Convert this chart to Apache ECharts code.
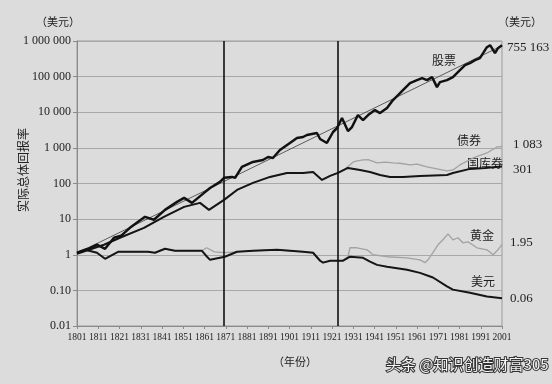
<!DOCTYPE html>
<html>
<head>
<meta charset="utf-8">
<script src="https://cdn.jsdelivr.net/npm/echarts@6/dist/echarts.min.js"></script>
<style>
  html, body { margin: 0; padding: 0; background: #dcdcdc; }
  #chart { width: 552px; height: 384px; }
</style>
</head>
<body>
<div id="chart"></div>
<script>
// ---- Data ----
const baseYear = 1801;
const xTickLabels = ['1801','1811','1821','1831','1841','1851','1861','1871','1881','1891','1901',
  '1911','1921','1931','1941','1951','1961','1971','1981','1991','2001'];
const yTickLabels = ['0.01','0.10','1','10','100','1 000','10 000','100 000','1 000 000'];

const stockYears = [1801,1806.2,1810.4,1814.2,1818.4,1821.7,1825.9,1833,1837.2,1842.4,1848.1,1851.4,1855.1,1860.8,1863.6,1868.3,1870.2,1873.9,1875.4,1878.6,1883.8,1888.5,1890.9,1893.2,1896.5,1901.2,1904.5,1907.4,1909.2,1913.9,1915.4,1918.6,1921.5,1923.4,1925.7,1928.5,1930.4,1933.2,1935.6,1938,1941.2,1943.6,1946.9,1949.7,1952.1,1954.4,1957.7,1961,1963.4,1965.7,1968.1,1970.4,1971.8,1975.1,1977.9,1981.2,1983.6,1985.9,1988.3,1990.6,1992.1,1993.9,1995.4,1997.7,1999.1,2001];
const stockValues = [1.14,1.47,1.91,1.47,3.0,3.4,5.7,11.6,9.6,18.2,30.5,39.5,28.6,54.6,75,111,144,153,144,292,403,458,556,521,873,1372,1893,2020,2300,2610,1775,1372,2790,3610,6880,2970,3850,8350,6050,8350,11500,9500,13100,22000,30300,41900,65800,79800,90800,79800,96800,50800,70100,79800,96800,152000,210000,239000,290000,330000,455000,670000,763000,455000,628000,755163];

const bondYears = [1801,1813.7,1821.2,1832.5,1841.9,1851.4,1858.9,1863.1,1870.2,1876.3,1883.8,1891.8,1899.8,1907.4,1912.1,1916.3,1920.1,1923.8,1927,1931,1933,1935.6,1938,1942.2,1946,1949.7,1953,1957.7,1961,1965.7,1975.1,1977.9,1981.2,1987.4,1993.9,1998.6,2001];
const bondValues = [1.07,1.91,3.0,5.7,11.6,22.1,28.6,18.2,34.7,66,104,153,198,198,211,126,163,198,250,403,430,458,470,378,400,378,370,332,350,292,225,240,332,521,720,1060,1083];

const billYears = [1801,1813.7,1821.2,1832.5,1841.9,1851.4,1858.9,1863.1,1870.2,1876.3,1883.8,1891.8,1899.8,1907.4,1912.1,1916.3,1920.1,1923.8,1928.5,1934.2,1938.9,1943.6,1948.3,1954.4,1962.4,1975.1,1977.9,1985.9,1993,2001];
const billValues = [1.07,1.91,3.0,5.7,11.6,22.1,28.6,18.2,34.7,66,104,153,198,198,211,126,163,198,273,240,211,174,153,153,163,174,198,257,273,301];

const goldYears = [1801,1804.8,1810.4,1814.2,1820.3,1834.4,1837.7,1842.4,1847.1,1859.8,1862,1865.7,1870.4,1876.3,1883.8,1895.1,1907.4,1912.1,1915.4,1916.8,1920.1,1926.2,1928.5,1929.5,1932.8,1937.5,1940.3,1946.9,1956.3,1962.4,1964.8,1966.2,1968.5,1970.9,1973.2,1975.6,1977.9,1980.3,1982.6,1985,1989.2,1993.9,1996.8,1999.1,2001];
const goldValues = [1.1,1.38,1.14,0.77,1.21,1.21,1.14,1.47,1.29,1.29,1.57,1.21,1.14,1.21,1.29,1.38,1.21,1.14,0.68,0.6,0.68,0.68,0.9,1.57,1.57,1.38,1.0,0.88,0.82,0.72,0.6,0.72,1.14,1.9,2.63,3.87,2.63,3.0,2.17,2.31,1.57,1.38,1.0,1.38,1.95];

const dollarYears = [1801,1804.8,1810.4,1814.2,1820.3,1834.4,1837.7,1842.4,1847.1,1859.8,1862.2,1863.6,1870.6,1876.3,1883.8,1895.1,1907.4,1912.1,1915.4,1916.8,1920.1,1926.2,1929.5,1935.6,1938.9,1942.2,1946.9,1956.3,1962.4,1968.5,1975.1,1977.9,1985.9,1993.9,2001];
const dollarValues = [1.1,1.38,1.14,0.77,1.21,1.21,1.14,1.47,1.29,1.29,0.88,0.72,0.88,1.21,1.29,1.38,1.21,1.14,0.68,0.6,0.68,0.68,0.88,0.82,0.64,0.52,0.46,0.38,0.31,0.23,0.13,0.105,0.086,0.067,0.06];

const trendYears = [1801, 2001];
const trendValues = [1.1, 740000];

const breakYears = [1870, 1923.5];

const endLabels = ['755 163', '1 083', '301', '1.95', '0.06'];
const seriesNames = ['股票', '债券', '国库券', '黄金', '美元'];

// ---- Build ----
function pairs(ys, vs) { return ys.map((y, i) => [y - baseYear, vs[i]]); }

const serif = '"Liberation Serif", "DejaVu Serif", serif';
const cjk = '"Noto Sans CJK SC", sans-serif';

const chart = echarts.init(document.getElementById('chart'), null, { renderer: 'canvas' });

const option = {
  backgroundColor: '#dcdcdc',
  animation: false,
  grid: { left: 77, right: 50, top: 41, bottom: 58, show: true, borderColor: '#9a9a9a', borderWidth: 1, backgroundColor: 'transparent' },
  xAxis: {
    type: 'value', min: 0, max: 200, interval: 10,
    axisLine: { show: true, lineStyle: { color: '#8a8a8a', width: 1 } },
    axisTick: { show: true, length: 3, lineStyle: { color: '#8a8a8a' } },
    splitLine: { show: false },
    axisLabel: {
      margin: 6, fontFamily: serif, fontSize: 9.5, color: '#222',
      formatter: v => xTickLabels[Math.round(v / 10)] || ''
    }
  },
  yAxis: {
    type: 'log', logBase: 10, min: 0.01, max: 1000000, splitNumber: 8,
    axisLine: { show: true, lineStyle: { color: '#8a8a8a', width: 1 } },
    axisTick: { show: true, length: 4, lineStyle: { color: '#8a8a8a' } },
    splitLine: { show: true, lineStyle: { color: '#a8a8a8', width: 1 } },
    minorSplitLine: { show: false },
    axisLabel: {
      margin: 6, fontFamily: serif, fontSize: 12, color: '#222',
      formatter: v => yTickLabels[Math.round(Math.log10(v)) + 2] || ''
    }
  },
  series: [
    { name: 'trend', type: 'line', data: pairs(trendYears, trendValues), showSymbol: false, silent: true,
      lineStyle: { color: '#3a3a3a', width: 0.8 }, z: 2 },
    { name: '债券', type: 'line', data: pairs(bondYears, bondValues), showSymbol: false, silent: true,
      lineStyle: { color: '#a2a2a2', width: 1.3 }, z: 3 },
    { name: '黄金', type: 'line', data: pairs(goldYears, goldValues), showSymbol: false, silent: true,
      lineStyle: { color: '#a2a2a2', width: 1.3 }, z: 3 },
    { name: '美元', type: 'line', data: pairs(dollarYears, dollarValues), showSymbol: false, silent: true,
      lineStyle: { color: '#151515', width: 2 }, z: 4 },
    { name: '国库券', type: 'line', data: pairs(billYears, billValues), showSymbol: false, silent: true,
      lineStyle: { color: '#151515', width: 2 }, z: 4 },
    { name: '股票', type: 'line', data: pairs(stockYears, stockValues), showSymbol: false, silent: true,
      lineStyle: { color: '#111', width: 2.5 }, z: 5,
      markLine: {
        silent: true, symbol: 'none', label: { show: false },
        lineStyle: { color: '#111', width: 1.6, type: 'solid' },
        data: breakYears.map(y => ({ xAxis: y - baseYear }))
      }
    }
  ],
  graphic: [
    { type: 'text', x: 58, y: 22, style: { text: '（美元）', font: '11px ' + cjk, fill: '#222', align: 'center', verticalAlign: 'middle' } },
    { type: 'text', x: 520, y: 22, style: { text: '（美元）', font: '11px ' + cjk, fill: '#222', align: 'center', verticalAlign: 'middle' } },
    { type: 'text', x: 23, y: 170, rotation: Math.PI / 2, style: { text: '实际总体回报率', font: '12px ' + cjk, fill: '#222', align: 'center', verticalAlign: 'middle' } },
    { type: 'text', x: 295, y: 362, style: { text: '（年份）', font: '11px ' + cjk, fill: '#222', align: 'center', verticalAlign: 'middle' } },

    { type: 'text', x: 507, y: 48, style: { text: endLabels[0], font: '13px ' + serif, fill: '#222', align: 'left', verticalAlign: 'middle' } },
    { type: 'text', x: 513, y: 145, style: { text: endLabels[1], font: '13px ' + serif, fill: '#222', align: 'left', verticalAlign: 'middle' } },
    { type: 'text', x: 513, y: 170, style: { text: endLabels[2], font: '13px ' + serif, fill: '#222', align: 'left', verticalAlign: 'middle' } },
    { type: 'text', x: 510, y: 243, style: { text: endLabels[3], font: '13px ' + serif, fill: '#222', align: 'left', verticalAlign: 'middle' } },
    { type: 'text', x: 510, y: 299, style: { text: endLabels[4], font: '13px ' + serif, fill: '#222', align: 'left', verticalAlign: 'middle' } },

    { type: 'text', x: 444, y: 60, style: { text: seriesNames[0], font: '12px ' + cjk, fill: '#222', align: 'center', verticalAlign: 'middle' } },
    { type: 'text', x: 469, y: 140, style: { text: seriesNames[1], font: '12px ' + cjk, fill: '#222', align: 'center', verticalAlign: 'middle' } },
    { type: 'text', x: 485, y: 163, style: { text: seriesNames[2], font: '12px ' + cjk, fill: '#222', align: 'center', verticalAlign: 'middle' } },
    { type: 'text', x: 482, y: 235, style: { text: seriesNames[3], font: '12px ' + cjk, fill: '#222', align: 'center', verticalAlign: 'middle' } },
    { type: 'text', x: 483, y: 281, style: { text: seriesNames[4], font: '12px ' + cjk, fill: '#222', align: 'center', verticalAlign: 'middle' } },

    { type: 'text', x: 386, y: 364, style: { text: '头条 @知识创造财富305', font: '15px ' + cjk, fill: '#f4f4f4', stroke: '#333', lineWidth: 2, align: 'left', verticalAlign: 'middle' } }
  ]
};
chart.setOption(option);
</script>
</body>
</html>
